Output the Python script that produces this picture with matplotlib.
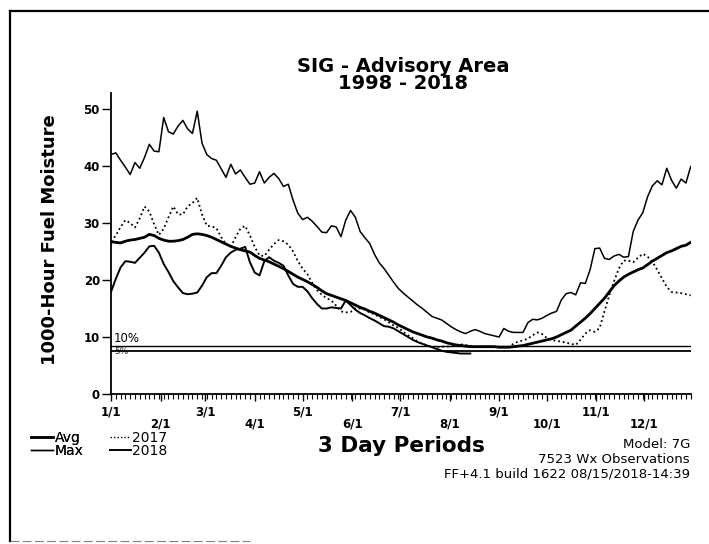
import matplotlib
matplotlib.use("Agg")
import matplotlib.pyplot as plt
from matplotlib.lines import Line2D
import numpy as np

plt.rcParams['font.family'] = ['DejaVu Sans']

# ---- data (3-day periods, index 0 = Jan 1) ----
max_vals = [42.0, 42.3, 41.0, 39.8, 38.5, 40.6, 39.6, 41.5, 43.8, 42.6,
            42.5, 48.5, 46.0, 45.6, 47.0, 48.0, 46.5, 45.7, 49.6, 44.0,
            42.0, 41.3, 41.0, 39.5, 38.0, 40.3, 38.6, 39.3, 38.0, 36.8,
            37.0, 39.0, 37.0, 38.0, 38.7, 37.8, 36.4, 36.8, 34.0, 31.7,
            30.6, 31.0, 30.3, 29.4, 28.4, 28.3, 29.5, 29.3, 27.6, 30.5,
            32.2, 31.0, 28.5, 27.4, 26.4, 24.5, 23.0, 22.0, 20.8, 19.6,
            18.5, 17.7, 17.0, 16.3, 15.6, 15.0, 14.3, 13.6, 13.3, 13.0,
            12.4, 11.8, 11.3, 10.9, 10.6, 11.0, 11.3, 11.0, 10.6, 10.4,
            10.2, 10.0, 11.5, 11.0, 10.8, 10.8, 10.8, 12.5, 13.1, 13.0,
            13.3, 13.8, 14.2, 14.5, 16.5, 17.6, 17.8, 17.4, 19.5, 19.4,
            21.8, 25.5, 25.6, 23.8, 23.6, 24.2, 24.5, 24.0, 24.1, 28.5,
            30.5, 31.8, 34.6, 36.5, 37.4, 36.7, 39.6, 37.5, 36.1, 37.7,
            37.0, 39.9]

avg_vals = [26.7, 26.6, 26.5, 26.8, 27.0, 27.1, 27.3, 27.5, 28.0, 27.8,
            27.3, 27.0, 26.8, 26.8, 26.9, 27.1, 27.5, 28.0, 28.1, 28.0,
            27.8, 27.5, 27.1, 26.7, 26.3, 25.9, 25.6, 25.3, 25.1, 24.9,
            24.3, 23.8, 23.5, 23.2, 22.8, 22.4, 22.0, 21.5, 21.0, 20.5,
            20.1, 19.7, 19.2, 18.7, 18.1, 17.6, 17.3, 17.0, 16.7, 16.4,
            16.0, 15.6, 15.2, 14.9, 14.5, 14.2, 13.8, 13.4, 13.0, 12.6,
            12.1, 11.7, 11.3, 10.9, 10.6, 10.3, 10.0, 9.8, 9.5, 9.3,
            9.0, 8.8, 8.6, 8.5, 8.4, 8.3, 8.3, 8.3, 8.3, 8.3,
            8.3, 8.2, 8.2, 8.2, 8.3, 8.4, 8.5, 8.7, 8.9, 9.1,
            9.3, 9.5, 9.7, 10.0, 10.4, 10.8, 11.2, 11.9, 12.6, 13.3,
            14.1, 15.0, 15.9, 16.8, 17.9, 19.0, 19.8, 20.5, 21.0, 21.4,
            21.8, 22.1, 22.7, 23.3, 23.8, 24.3, 24.8, 25.1, 25.5, 25.9,
            26.1, 26.6]

y2017_vals = [26.8, 27.8, 29.3, 30.5, 30.0, 29.2, 30.8, 32.9, 32.0, 29.8,
              27.9, 29.0, 31.0, 32.9, 31.5, 31.5, 32.9, 33.5, 34.4, 31.5,
              29.5, 29.4, 29.1, 27.5, 26.3, 25.8, 27.5, 29.0, 29.5, 27.8,
              25.8, 24.3, 24.2, 25.3, 26.3, 27.0, 26.8, 26.2, 25.0, 23.3,
              22.0, 21.0, 19.5, 18.2, 17.4, 16.8, 16.4, 15.5, 14.5, 14.3,
              14.4, 15.0, 15.0, 14.8, 14.3, 14.0, 13.5, 13.1, 12.6, 12.0,
              11.6, 10.9, 10.3, 9.8, 9.2, 8.8, 8.5, 8.3, 8.2, 8.3,
              8.3, 8.4, 8.6, 8.7, 8.6, 8.4, 8.3, 8.3, 8.3, 8.3,
              8.3, 8.3, 8.3, 8.3, 8.8, 9.2, 9.4, 9.7, 10.3, 10.8,
              10.5, 9.8, 9.5, 9.3, 9.2, 9.0, 8.8, 8.6, 9.5, 10.6,
              11.2, 10.9, 11.6, 14.5, 17.3, 19.8, 22.0, 23.4, 23.4, 23.1,
              23.9, 24.6, 24.1, 23.2, 21.8, 20.3, 18.8, 17.9, 17.8, 17.7,
              17.5, 17.3]

y2018_vals = [17.9, 20.2, 22.2, 23.3, 23.2, 23.0, 23.9, 24.8, 25.9, 26.0,
              24.8, 22.8, 21.4, 19.8, 18.7, 17.7, 17.5, 17.6, 17.8, 19.0,
              20.5, 21.2, 21.2, 22.5, 24.0, 24.8, 25.3, 25.5, 25.8, 23.1,
              21.3, 20.8, 23.3, 24.0, 23.4, 23.0, 22.5, 20.8, 19.3, 18.8,
              18.8, 18.0, 16.8, 15.8, 15.0, 15.0, 15.2, 15.1, 15.0, 16.4,
              15.6, 14.8, 14.2, 13.8, 13.3, 12.9, 12.4, 11.9, 11.8, 11.5,
              11.0, 10.5, 10.0, 9.5, 9.1, 8.8, 8.5, 8.2, 7.9, 7.6,
              7.4, 7.3, 7.2, 7.1, 7.1, 7.1]

pct10_val = 8.4
pct5_val = 7.5

month_labels = ['1/1', '2/1', '3/1', '4/1', '5/1', '6/1',
                '7/1', '8/1', '9/1', '10/1', '11/1', '12/1']
month_days = [0, 31, 59, 90, 120, 151, 181, 212, 243, 273, 304, 334]
yticks = [0, 10, 20, 30, 40, 50]

# ---- figure ----
W, H = 709, 544
fig = plt.figure(figsize=(W / 100, H / 100), dpi=100)
ax = fig.add_axes([111 / W, 1 - 394 / H, (690.7 - 111) / W, (394 - 93) / H])

x_all = np.arange(len(max_vals))
x18 = np.arange(len(y2018_vals))

ax.axhline(pct10_val, color='black', lw=1.0)
ax.axhline(pct5_val, color='black', lw=1.3)
ax.plot(x_all, max_vals, color='black', lw=1.1)
ax.plot(x_all, y2017_vals, color='black', lw=1.3, ls=(0, (1, 1.6)))
ax.plot(x_all, avg_vals, color='black', lw=2.0)
ax.plot(x18, y2018_vals, color='black', lw=1.4)

ax.text(0.5, pct10_val + 0.15, '10%', fontsize=8.5, va='bottom', ha='left')
ax.text(0.7, pct10_val - 0.15, '5%', fontsize=6.5, va='top', ha='left', alpha=0.8)

ax.set_xlim(0, 121)
ax.set_ylim(0, 52.8)
for s in ['top', 'right']:
    ax.spines[s].set_visible(False)
ax.spines['left'].set_linewidth(1.3)
ax.spines['bottom'].set_linewidth(1.3)

ax.set_yticks(yticks)
ax.set_yticklabels([str(v) for v in yticks], fontsize=8.5, fontweight='bold')
ax.tick_params(axis='y', direction='out', length=6.5, width=1, pad=1.5)

month_pos = [d / 3 for d in month_days]
ax.set_xticks(month_pos)
labels = [lab if i % 2 == 0 else '\n' + lab for i, lab in enumerate(month_labels)]
ax.set_xticklabels(labels, fontsize=8.5, fontweight='bold', linespacing=0.95)
ax.set_xticks(np.arange(0, 122), minor=True)
ax.tick_params(axis='x', which='major', direction='out', length=5, width=1, pad=3)
ax.tick_params(axis='x', which='minor', direction='out', length=3.5, width=0.8)

# titles / labels
fig.text(403 / W, 1 - 75 / H, 'SIG - Advisory Area\n1998 - 2018', ha='center',
         va='center', multialignment='center', fontsize=14, fontweight='bold',
         linespacing=0.82)
fig.text(50 / W, 1 - 240 / H, '1000-Hour Fuel Moisture', rotation=90,
         ha='center', va='center', fontsize=13, fontweight='bold')
fig.text(401 / W, 1 - 452 / H, '3 Day Periods', ha='center', va='baseline',
         fontsize=15.5, fontweight='bold')
fig.text(690 / W, 1 - 445 / H, 'Model: 7G', ha='right', va='center', fontsize=9.5)
fig.text(690 / W, 1 - 459.5 / H, '7523 Wx Observations', ha='right', va='center',
         fontsize=9.5)
fig.text(690 / W, 1 - 474 / H, 'FF+4.1 build 1622 08/15/2018-14:39', ha='right',
         va='center', fontsize=9.5)

h_avg = Line2D([], [], color='black', lw=1.8)
h_max = Line2D([], [], color='black', lw=1.0)
h_17 = Line2D([], [], color='black', lw=1.0, ls=(0, (1, 1.5)))
h_18 = Line2D([], [], color='black', lw=1.4)
leg1 = fig.legend([h_avg, h_max], ['Avg', 'Max'], frameon=False,
                  loc='upper left', bbox_to_anchor=(31 / W, 1 - 431 / H),
                  fontsize=10, handlelength=1.6, handletextpad=0.1,
                  labelspacing=-0.1, borderpad=0, borderaxespad=0)
fig.legend([h_17, h_18], ['2017', '2018'], frameon=False,
           loc='upper left', bbox_to_anchor=(110 / W, 1 - 431 / H),
           fontsize=10, handlelength=1.5, handletextpad=0.1,
           labelspacing=-0.1, borderpad=0, borderaxespad=0)
fig.add_artist(leg1)

# scanned-page frame
fig.add_artist(Line2D([10 / W, 10 / W], [1 - 541 / H, 1 - 11 / H], color='black', lw=1.6))
fig.add_artist(Line2D([10 / W, 1.0], [1 - 11 / H, 1 - 11 / H], color='black', lw=1.6))
fig.add_artist(Line2D([10 / W, 250 / W], [1 - 541 / H, 1 - 541 / H], color='0.5',
                      lw=0.8, ls=(0, (8, 3))))

fig.savefig('out.png', dpi=100)
